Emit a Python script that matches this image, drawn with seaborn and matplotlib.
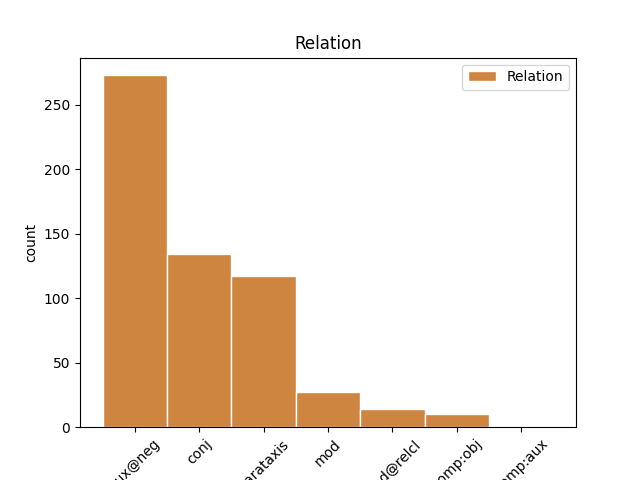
import matplotlib
matplotlib.use("Agg")
import matplotlib.pyplot as plt
import seaborn as sns
import numpy as np
import pandas as pd

categories = ["aux@neg", "conj", "parataxis", "mod", "mod@relcl", "comp:obj", "comp:aux"]
counts = [273, 134, 117, 27, 14, 10, 1]

df = pd.DataFrame({"Relation": pd.Categorical(np.repeat(categories, counts), categories=categories)})

fig, ax = plt.subplots(figsize=(6.4, 4.8), dpi=100)
sns.histplot(data=df, x="Relation", color="peru", alpha=1.0, edgecolor="white",
             label="Relation", ax=ax)
ax.set_title("Relation")
ax.set_ylabel("count")
ax.set_xlabel("")
ax.tick_params(axis="x", rotation=45)
ax.legend(loc="upper right")
fig.savefig("out.png", dpi=100)
